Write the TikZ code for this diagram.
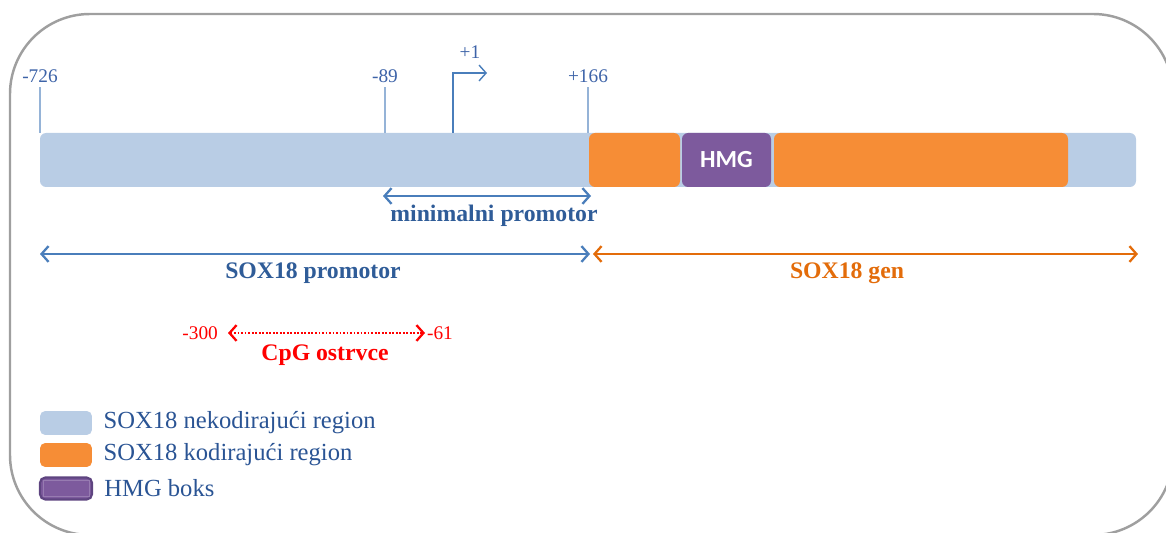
\documentclass[tikz,border=0pt]{standalone}
\usepackage{fontspec}
\setmainfont{Liberation Serif}
\newfontfamily\hmgfont{Carlito}
\usepackage{tikz}
\usetikzlibrary{arrows.meta,positioning,calc}
\definecolor{nonc}{HTML}{B9CDE5}
\definecolor{cod}{HTML}{F68D36}
\definecolor{hmgc}{HTML}{7D5A9D}
\definecolor{hmgdark}{HTML}{5E4480}
\definecolor{tickc}{HTML}{95B3D7}
\definecolor{numc}{HTML}{3D63A8}
\definecolor{promc}{HTML}{4A7EBB}
\definecolor{promtxt}{HTML}{2F5C98}
\definecolor{genc}{HTML}{E36C0A}
\definecolor{legtxt}{HTML}{2A5494}
\tikzset{
  seg/.style={rounded corners=3.5pt},
  num/.style={font=\fontsize{11}{13}\selectfont,text=numc,inner sep=1pt},
  lbl/.style={font=\fontsize{13.5}{16}\selectfont\bfseries,inner sep=1pt},
  span/.style={{Straight Barb[length=4pt,width=9pt,line width=1.3pt]}-{Straight Barb[length=4pt,width=9pt,line width=1.3pt]}},
  legbox/.style={rounded corners=3pt,minimum width=1.04cm,minimum height=0.48cm,inner sep=0pt},
  legtext/.style={anchor=west,font=\fontsize{14}{16}\selectfont,text=legtxt,inner sep=0pt},
}
\begin{document}
\begin{tikzpicture}[x=0.02cm,y=-0.02cm]
\useasboundingbox (0,0) rectangle (1166,533);
\clip (0,0) rectangle (1166,533);
\draw[gray!75,line width=1.4pt,rounded corners=1.6cm] (10,14) rectangle (1173,535);
% gene bar
\fill[nonc,seg] (40,133) rectangle (1136,187);
\fill[cod,seg] (589,133) rectangle (680,187);
\fill[cod,seg] (774,133) rectangle (1068,187);
\fill[hmgc,seg] (682,133) rectangle (771,187);
\node[text=white,font=\hmgfont\fontsize{14}{16}\selectfont\bfseries] (hmg) at (726.5,160) {HMG};
% positions
\foreach \xx/\nm/\lab in {40/m726/-726,385/m89/-89,588/p166/+166} {
  \coordinate (\nm) at (\xx,133);
  \draw[tickc,line width=0.6pt] (\nm) -- ++(0,-46) node[num,above=1pt] (t\nm) {\lab};
}
\coordinate (tss) at (453,133); \coordinate (tssend) at (487,73);
\draw[promc,line width=0.8pt,-{Straight Barb[length=4pt,width=9pt]}] (tss) |- (tssend);
\node[num] (tp1) at (470,52) {+1};
% spans
\coordinate (minA) at (383,196); \coordinate (minB) at (591,196);
\draw[span,promc,line width=1pt] (minA) -- (minB);
\node[lbl,text=promtxt] (minlbl) at (494,216) {minimalni promotor};
\coordinate (promA) at (40,254); \coordinate (promB) at (590,254);
\draw[span,promc,line width=1.1pt] (promA) -- (promB);
\node[lbl,text=promtxt] (promlbl) at (313,273) {SOX18 promotor};
\coordinate (genA) at (593,254); \coordinate (genB) at (1138,254);
\draw[span,genc,line width=1.4pt] (genA) -- (genB);
\node[lbl,text=genc] (genlbl) at (847,273) {SOX18 gen};
% CpG
\node[num,text=red,anchor=east] (cpgL) at (220,333) {-300};
\node[num,text=red,anchor=west] (cpgR) at (425,333) {-61};
\draw[span,red,line width=1pt,densely dotted] (cpgL.east) ++(8,0) coordinate (cpgA) -- (cpgR.west);
\node[lbl,text=red] (cpglbl) at (325,355) {CpG ostrvce};
% legend
\node[legbox,fill=nonc] (lg1) at (66,423) {};
\node[legbox,fill=cod] (lg2) at (66,455) {};
\node[legbox,fill=hmgc,draw=hmgdark,line width=1.2pt,minimum height=0.44cm] (lg3) at (66,488.5) {};
\draw[hmgc!80!white,line width=0.4pt] ($(lg3.south west)+(4,-4)$) rectangle ($(lg3.north east)+(-4,4)$);
\node[legtext,right=11 of lg1] (lt1) {SOX18 nekodirajući region};
\node[legtext,right=11 of lg2] (lt2) {SOX18 kodirajući region};
\node[legtext,right=11 of lg3] (lt3) {HMG boks};
\end{tikzpicture}
\end{document}
